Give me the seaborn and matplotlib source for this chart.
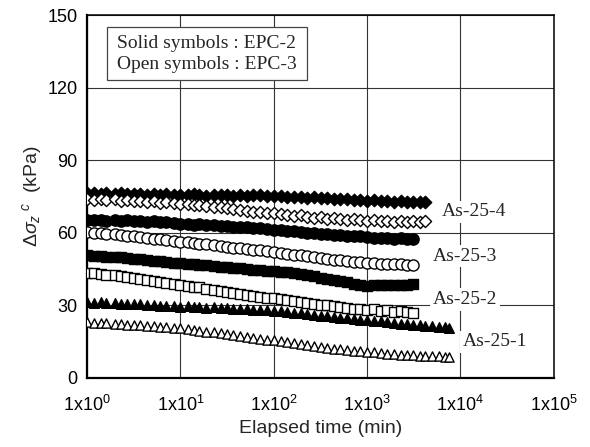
import matplotlib
matplotlib.use("Agg")
import matplotlib.pyplot as plt
import matplotlib.ticker as mticker
from matplotlib.patches import Rectangle
import numpy as np
import pandas as pd
import seaborn as sns

sns.set_style("white")
plt.rcParams["font.family"] = ["Liberation Sans", "DejaVu Sans"]
plt.rcParams["mathtext.fontset"] = "custom"
plt.rcParams["mathtext.rm"] = "Liberation Sans"
plt.rcParams["mathtext.it"] = "Liberation Sans:italic"
plt.rcParams["mathtext.sf"] = "Liberation Sans"

# Elapsed time of each reading (min)
time_min = [1, 1.2, 1.4, 1.6, 2, 2.3, 2.7, 3.2, 3.7, 4.4, 5.2, 6, 7, 8.5,
            10, 12, 14, 16, 19, 23, 27, 32, 37, 44, 52, 60, 72, 85,
            100, 120, 140, 165, 195, 230, 270, 320, 370, 440, 520, 610, 720, 850,
            1000, 1180, 1400, 1650, 1950, 2300, 2700, 3150, 3700, 4200,
            5000, 5900, 6900, 7500]

# As-25-4
as254_epc2 = [76.3, 76.5, 76.0, 76.4, 76.1, 76.3, 75.9, 76.2, 76.0, 75.8, 76.1, 75.7, 75.9, 75.6,
              75.8, 75.5, 75.9, 75.6, 75.4, 75.7, 75.5, 75.8, 75.4, 75.6, 75.3, 75.5, 75.6, 75.2,
              75.4, 75.1, 75.0, 74.8, 74.9, 74.5, 74.6, 74.2, 74.3, 74.0, 73.8, 73.9, 73.5, 73.6,
              73.3, 73.4, 73.0, 73.2, 72.8, 73.1, 72.7, 72.9, 72.6, 72.8]
as254_epc3 = [74.0, 73.6, 74.1, 73.5, 73.8, 73.3, 73.6, 73.0, 73.2, 72.8, 73.0, 72.5, 72.6, 72.3,
              72.0, 71.8, 71.5, 71.6, 71.0, 70.8, 70.5, 70.1, 70.0, 69.5, 69.2, 68.8, 68.6, 68.3,
              68.0, 67.7, 67.5, 67.0, 67.2, 66.6, 66.3, 66.5, 65.9, 66.0, 65.6, 65.4, 65.5, 65.1,
              65.0, 65.2, 64.7, 65.0, 64.6, 64.9, 64.5, 64.8, 64.6, 64.7]

# As-25-3
as253_epc2 = [65.3, 65.1, 65.4, 65.0, 65.2, 64.9, 65.1, 64.8, 64.9, 64.6, 64.8, 64.4, 64.5, 64.0,
              63.6, 63.8, 63.4, 63.5, 63.1, 63.3, 62.9, 63.0, 62.6, 62.4, 62.5, 62.0, 61.8, 61.5,
              61.2, 61.0, 60.7, 60.8, 60.3, 60.1, 59.9, 59.6, 59.4, 59.2, 58.9, 58.8, 58.6, 58.5,
              58.4, 58.0, 57.8, 57.9, 57.5, 57.7, 57.4, 57.3]
as253_epc3 = [60.5, 60.1, 59.8, 59.6, 59.3, 59.0, 58.8, 58.5, 58.2, 58.0, 57.6, 57.3, 57.0, 56.6,
              56.3, 56.0, 55.8, 55.4, 55.2, 54.9, 54.5, 54.3, 53.9, 53.6, 53.4, 53.0, 52.7, 52.5,
              52.2, 51.8, 51.4, 51.0, 50.7, 50.3, 49.9, 49.6, 49.2, 48.9, 48.6, 48.3, 48.0, 47.8,
              47.6, 47.4, 47.2, 47.3, 47.0, 46.9, 46.8, 46.7]

# As-25-2
as252_epc2 = [50.8, 50.6, 50.4, 50.2, 50.0, 49.8, 49.5, 49.3, 49.0, 48.8, 48.5, 48.2, 48.0, 47.7,
              47.4, 47.2, 47.0, 46.8, 46.5, 46.3, 46.0, 45.8, 45.5, 45.3, 45.0, 44.8, 44.6, 44.4,
              44.3, 44.0, 43.6, 43.2, 42.8, 42.4, 42.0, 41.5, 41.0, 40.5, 40.0, 39.5, 39.0, 38.5,
              38.2, 38.3, 38.4, 38.5, 38.5, 38.6, 38.6, 38.7]
as252_epc3 = [43.4, 43.2, 42.8, 42.5, 42.6, 42.0, 41.7, 41.4, 41.0, 40.6, 40.2, 39.7, 39.2, 38.8,
              38.4, 38.0, 37.6, 37.5, 36.8, 36.4, 36.0, 35.6, 35.3, 34.8, 34.4, 34.0, 33.6, 33.2,
              32.9, 32.5, 32.1, 31.7, 31.5, 31.0, 30.6, 30.3, 30.0, 29.6, 29.3, 29.0, 28.7, 28.4,
              28.1, 28.5, 27.8, 28.0, 27.4, 27.6, 27.2, 27.0]

# As-25-1
as251_epc2 = [31.3, 31.0, 31.2, 30.8, 31.0, 30.6, 30.7, 30.4, 30.5, 30.1, 30.2, 29.9, 29.8, 29.6,
              29.5, 29.6, 29.3, 29.4, 29.1, 29.2, 28.9, 29.0, 28.6, 28.7, 28.4, 28.3, 28.1, 27.9,
              27.8, 27.6, 27.3, 27.0, 26.8, 26.5, 26.1, 25.8, 25.5, 25.1, 24.8, 24.6, 24.3, 24.1,
              24.0, 23.7, 23.4, 23.1, 22.8, 22.5, 22.2, 22.0, 21.7, 21.5, 21.3, 21.1, 20.9, 20.8]
as251_epc3 = [23.0, 22.9, 22.7, 22.6, 22.4, 22.3, 22.1, 21.9, 21.7, 21.5, 21.3, 21.1, 20.9, 20.7,
              20.5, 20.2, 19.9, 19.6, 19.2, 18.8, 18.4, 18.0, 17.7, 17.3, 17.0, 16.6, 16.2, 15.9,
              15.6, 15.2, 14.8, 14.4, 14.0, 13.6, 13.2, 12.8, 12.4, 12.1, 11.8, 11.5, 11.2, 11.0,
              10.8, 10.6, 10.3, 10.1, 9.9, 9.7, 9.5, 9.4, 9.2, 9.1, 9.0, 8.9, 8.8, 8.8]

x_ticks = [1, 10, 100, 1000, 10000, 100000]
x_ticklabels = [r"$1\mathregular{x}10^{0}$", r"$1\mathregular{x}10^{1}$", r"$1\mathregular{x}10^{2}$",
                r"$1\mathregular{x}10^{3}$", r"$1\mathregular{x}10^{4}$", r"$1\mathregular{x}10^{5}$"]
y_ticks = [0, 30, 60, 90, 120, 150]

group_labels = ["As-25-4", "As-25-3", "As-25-2", "As-25-1"]
group_label_pos = [(6300, 68.6), (5100, 50.4), (5100, 32.6), (10700, 14.9)]

series = [
    (as254_epc2, "D", True, 40),
    (as254_epc3, "D", False, 38),
    (as253_epc2, "o", True, 66),
    (as253_epc3, "o", False, 64),
    (as252_epc2, "s", True, 46),
    (as252_epc3, "s", False, 42),
    (as251_epc2, "^", True, 48),
    (as251_epc3, "^", False, 44),
]

fig = plt.figure(figsize=(5.9, 4.47), dpi=100)
ax = fig.add_axes([0.1475, 0.1544, 0.7907, 0.812])

for values, mk, solid, size in series:
    df = pd.DataFrame({"t": time_min[:len(values)], "s": values})
    sns.scatterplot(data=df, x="t", y="s", marker=mk, s=size, ax=ax,
                    color="black" if solid else "white", edgecolor="black",
                    linewidth=1.0, zorder=3, legend=False)

ax.set_xscale("log")
ax.set_xlim(1, 1e5)
ax.set_ylim(0, 150)
ax.set_xticks(x_ticks)
ax.set_xticklabels(x_ticklabels)
ax.set_yticks(y_ticks)
ax.xaxis.set_minor_locator(mticker.LogLocator(base=10, subs=np.arange(2, 10), numticks=20))
ax.xaxis.set_minor_formatter(mticker.NullFormatter())
ax.yaxis.set_minor_locator(mticker.MultipleLocator(6))

ax.grid(True, which="major", color="#333333", linewidth=0.8)
ax.set_axisbelow(True)
ax.tick_params(which="major", direction="inout", length=7, width=0.8, labelsize=13, colors="black")
ax.tick_params(axis="x", which="major", pad=9)
ax.tick_params(which="minor", direction="in", length=3, width=0.7)
for side in ["left", "bottom"]:
    ax.spines[side].set_linewidth(1.6)
for side in ["top", "right"]:
    ax.spines[side].set_linewidth(1.1)
for sp in ax.spines.values():
    sp.set_color("black")

ax.set_xlabel("Elapsed time (min)", fontsize=14, labelpad=3)
ax.set_ylabel(r"$\Delta\sigma_z{}^{\ c}$  (kPa)", fontsize=14, labelpad=2)

# key for the marker fill convention
box_x0, box_x1, box_y0, box_y1 = 0.043, 0.4716, 0.821, 0.967
ax.add_patch(Rectangle((box_x0, box_y0), box_x1 - box_x0, box_y1 - box_y0, transform=ax.transAxes,
                       facecolor="white", edgecolor="#444444", linewidth=0.9, zorder=5))
ax.text((box_x0 + box_x1) / 2, (box_y0 + box_y1) / 2 - 0.002,
        "Solid symbols : EPC-2\nOpen symbols : EPC-3", transform=ax.transAxes,
        family=["Liberation Serif"], fontsize=14, va="center", ha="center",
        multialignment="left", linespacing=1.3, zorder=6)

for lab, (lx, ly) in zip(group_labels, group_label_pos):
    ax.text(lx, ly, lab, family=["Liberation Serif"], fontsize=14, va="center", ha="left",
            bbox=dict(boxstyle="square,pad=0.15", facecolor="white", edgecolor="none"), zorder=4)

fig.savefig("out.png", dpi=100)
